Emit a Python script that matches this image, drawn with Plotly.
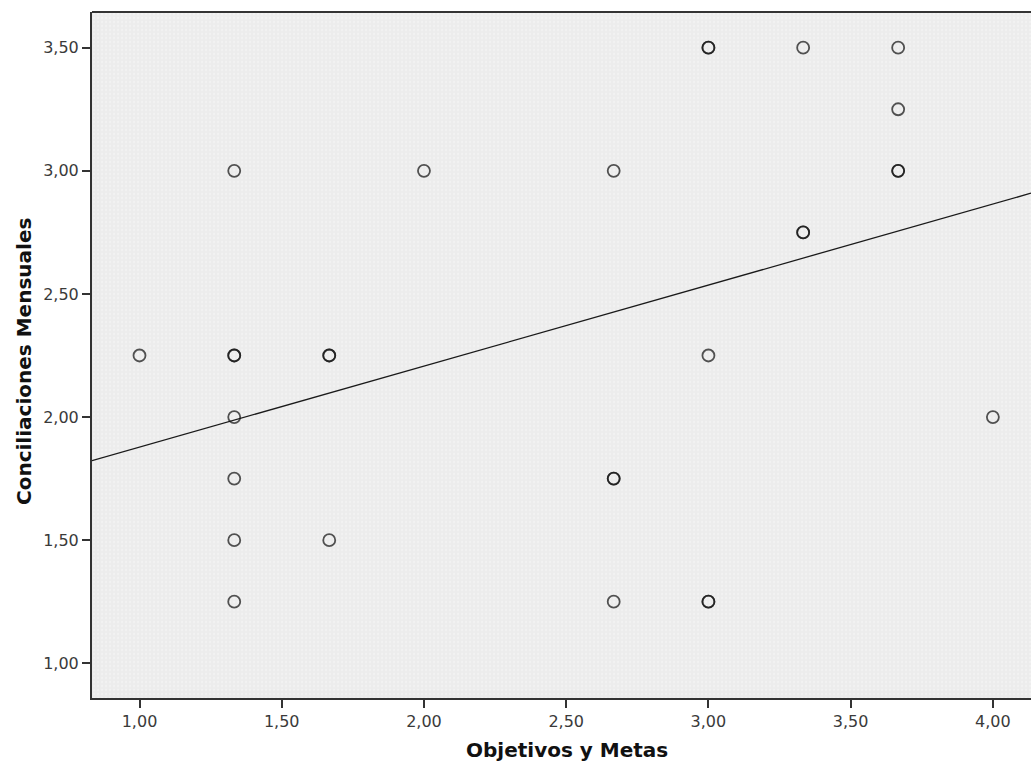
import numpy as np
import plotly.graph_objects as go

# Data (duplicates = bolder circles)
objetivos = [1.333, 2.0, 2.667, 3.0, 3.0, 3.333, 3.667, 3.667, 3.667, 3.667,
             3.333, 3.333, 1.0, 1.333, 1.333, 1.667, 1.667, 3.0, 1.333, 4.0,
             1.333, 2.667, 2.667, 1.333, 1.667, 1.333, 2.667, 3.0, 3.0]
conciliaciones = [3.0, 3.0, 3.0, 3.5, 3.5, 3.5, 3.5, 3.25, 3.0, 3.0,
                  2.75, 2.75, 2.25, 2.25, 2.25, 2.25, 2.25, 2.25, 2.0, 2.0,
                  1.75, 1.75, 1.75, 1.5, 1.5, 1.25, 1.25, 1.25, 1.25]
x_ticks = [1.0, 1.5, 2.0, 2.5, 3.0, 3.5, 4.0]
y_ticks = [1.0, 1.5, 2.0, 2.5, 3.0, 3.5]
x_range = [0.833, 4.134]
y_range = [0.859, 3.645]

slope, intercept = np.polyfit(objetivos, conciliaciones, 1)
fit_x = np.array(x_range)
fit_y = intercept + slope * fit_x

FONT = "DejaVu Sans, Verdana, sans-serif"

fig = go.Figure()
# dotted background texture of the plot area
fig.add_trace(go.Scatter(
    x=[x_range[0], x_range[1], x_range[1], x_range[0], x_range[0]],
    y=[y_range[0], y_range[0], y_range[1], y_range[1], y_range[0]],
    mode="none", fill="toself", fillcolor="#ececec",
    fillpattern=dict(shape=".", fgcolor="#f8f8f8", bgcolor="#ececec", size=4, solidity=0.25),
    showlegend=False, hoverinfo="skip"))
fig.add_trace(go.Scatter(
    x=fit_x, y=fit_y, mode="lines",
    line=dict(color="#1a1a1a", width=1.3), showlegend=False, hoverinfo="skip"))
fig.add_trace(go.Scatter(
    x=objetivos, y=conciliaciones, mode="markers",
    marker=dict(symbol="circle-open", size=12, color="rgba(20,20,20,0.72)",
                line=dict(width=1.8)),
    showlegend=False))

axis_font = dict(family=FONT, size=16, color="#3a3a3a")
fig.update_layout(
    width=1031, height=762,
    margin=dict(l=92, r=0, t=12, b=64),
    paper_bgcolor="white", plot_bgcolor="#ececec",
    separators=",.",
    xaxis=dict(range=x_range, tickvals=x_ticks, tickformat=".2f",
               showgrid=False, zeroline=False, showline=True, linecolor="#333333",
               linewidth=2, ticks="outside", ticklen=8, tickwidth=2, tickcolor="#333333",
               tickfont=axis_font),
    yaxis=dict(range=y_range, tickvals=y_ticks, tickformat=".2f",
               showgrid=False, zeroline=False, showline=True, linecolor="#333333",
               linewidth=2, ticks="outside", ticklen=8, tickwidth=2, tickcolor="#333333",
               tickfont=axis_font),
    shapes=[dict(type="line", xref="paper", yref="paper", x0=0, x1=1, y0=1, y1=1,
                 line=dict(color="#333333", width=2))],
    annotations=[
        dict(text="<b>Objetivos y Metas</b>", xref="paper", yref="paper",
             x=(567 - 92) / (1031 - 92), y=0, yshift=-52, showarrow=False,
             xanchor="center", yanchor="middle",
             font=dict(family=FONT, size=20, color="#111111")),
        dict(text="<b>Conciliaciones Mensuales</b>", xref="paper", yref="paper",
             x=0, xshift=-68, y=(698 - 362) / (698 - 12), textangle=-90,
             showarrow=False, xanchor="center", yanchor="middle",
             font=dict(family=FONT, size=20, color="#111111")),
    ],
)

fig.write_html("out.html", config={"displayModeBar": False},
               post_script="document.body.style.margin='0';document.body.style.overflow='hidden';")
